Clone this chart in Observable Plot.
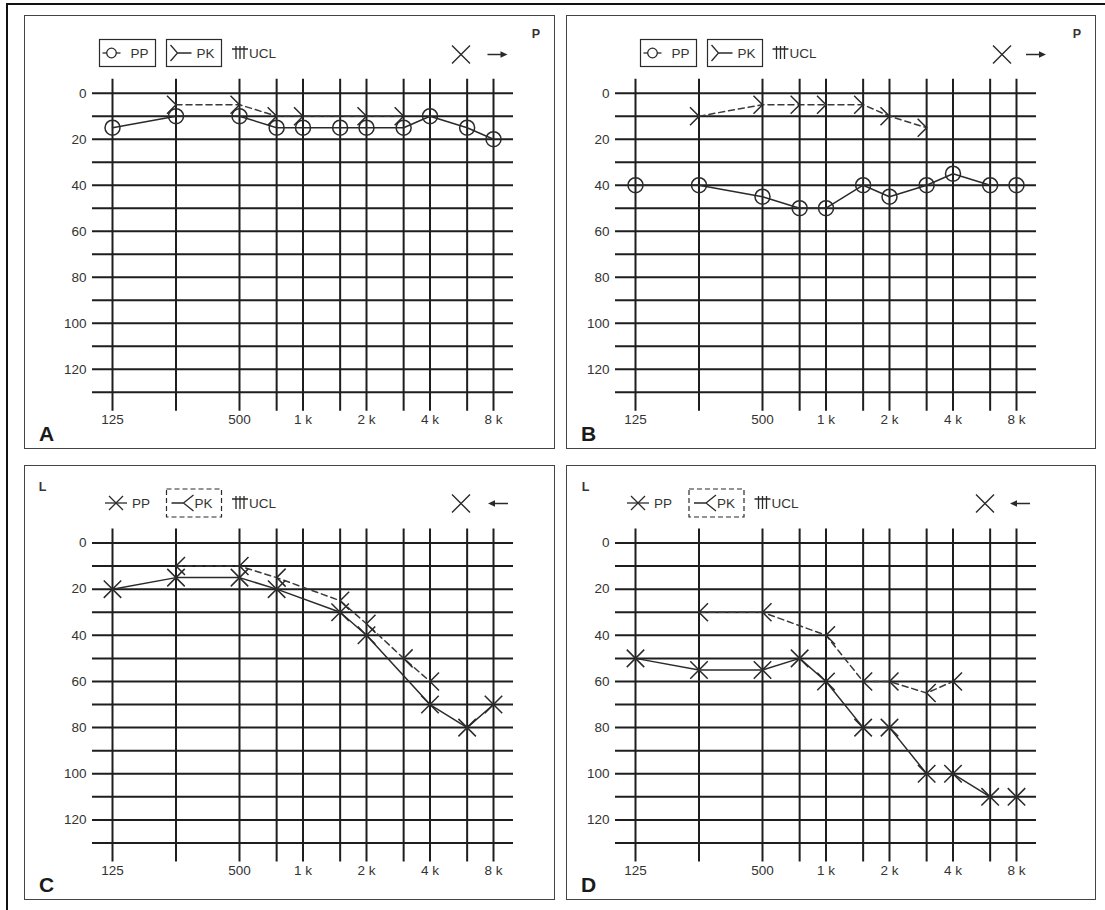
<!DOCTYPE html>
<html><head><meta charset="utf-8">
<script src="https://cdn.jsdelivr.net/npm/d3@7"></script>
<script src="https://cdn.jsdelivr.net/npm/@observablehq/plot@0.6"></script>
<style>
body{margin:0;background:#fff;}
#root{position:relative;width:1105px;height:910px;overflow:hidden;font-family:"Liberation Sans",Arial,Helvetica,sans-serif;}
.frame-top{position:absolute;left:6px;top:3px;width:1099px;height:2px;background:#111;}
.frame-left{position:absolute;left:6px;top:3px;width:2px;height:907px;background:#111;}
.box{position:absolute;border:1.5px solid #444;box-sizing:border-box;}
.layer{position:absolute;overflow:visible;}
</style></head><body><div id="root"><div class="frame-top"></div><div class="frame-left"></div></div>
<script>
// ---- axes / ticks ----
const freqs = [125, 250, 500, 750, 1000, 1500, 2000, 3000, 4000, 6000, 8000];
const dbGrid = [0, 10, 20, 30, 40, 50, 60, 70, 80, 90, 100, 110, 120, 130];
const dbLabels = [0, 20, 40, 60, 80, 100, 120];
const freqLabelValues = [125, 500, 1000, 2000, 4000, 8000];
const freqLabelTexts = ["125", "500", "1 k", "2 k", "4 k", "8 k"];

// ---- Panel A (right ear) ----
const aPPfreq = [125, 250, 500, 750, 1000, 1500, 2000, 3000, 4000, 6000, 8000];
const aPPdb   = [15, 10, 10, 15, 15, 15, 15, 15, 10, 15, 20];
const aPKfreq = [250, 500, 750, 1000, 2000, 3000];
const aPKdb   = [5, 5, 10, 10, 10, 10];

// ---- Panel B (right ear) ----
const bPPfreq = [125, 250, 500, 750, 1000, 1500, 2000, 3000, 4000, 6000, 8000];
const bPPdb   = [40, 40, 45, 50, 50, 40, 45, 40, 35, 40, 40];
const bPKfreq = [250, 500, 750, 1000, 1500, 2000, 3000];
const bPKdb   = [10, 5, 5, 5, 5, 10, 15];

// ---- Panel C (left ear) ----
const cPPfreq = [125, 250, 500, 750, 1500, 2000, 4000, 6000, 8000];
const cPPdb   = [20, 15, 15, 20, 30, 40, 70, 80, 70];
const cPKfreq = [250, 500, 750, 1500, 2000, 3000, 4000];
const cPKdb   = [10, 10, 15, 25, 35, 50, 60];

// ---- Panel D (left ear) ----
const dPPfreq = [125, 250, 500, 750, 1000, 1500, 2000, 3000, 4000, 6000, 8000];
const dPPdb   = [50, 55, 55, 50, 60, 80, 80, 100, 100, 110, 110];
const dPKfreq = [250, 500, 1000, 1500, 2000, 3000, 4000];
const dPKdb   = [30, 30, 40, 60, 60, 65, 60];

const INK = "#2a2a2a";
const FONT = '"Liberation Sans", Arial, Helvetica, sans-serif';

const chevRight = {draw(ctx, size){ const r = Math.sqrt(size/Math.PI); ctx.moveTo(-r,-r); ctx.lineTo(0,0); ctx.lineTo(-r,r); }};
const chevLeft  = {draw(ctx, size){ const r = Math.sqrt(size/Math.PI); ctx.moveTo(r,-r); ctx.lineTo(0,0); ctx.lineTo(r,r); }};

const root = document.getElementById("root");

function zip(f, v){ return f.map((x,i)=>({f:x, db:v[i]})); }

function panel(cfg){
  const {left, top, width, height, gx0, gx1, gy0, gy1, pp, pk, ear, letter, lg} = cfg;
  const box = document.createElement("div");
  box.className = "box";
  Object.assign(box.style, {left:left+"px", top:top+"px", width:width+"px", height:height+"px"});
  root.appendChild(box);

  const right = ear === "P";
  const plot = Plot.plot({
    width, height,
    marginLeft: gx0, marginRight: width - gx1, marginTop: gy0, marginBottom: height - gy1,
    style: {fontFamily: FONT, fontSize: "13.5px", background: "transparent", color: INK, overflow: "visible"},
    x: {type: "log", domain: [125, 8000], axis: null},
    y: {domain: [0, 130], reverse: true, axis: null},
    marks: [
      Plot.ruleY(dbGrid, {stroke: "#1e1e1e", strokeWidth: 2, insetLeft: -20, insetRight: -20}),
      Plot.ruleX(freqs, {stroke: "#1e1e1e", strokeWidth: 2, insetTop: -14, insetBottom: -19}),
      Plot.text(dbLabels, {y: d => d, frameAnchor: "left", textAnchor: "end", dx: -26, fill: "#333"}),
      Plot.text(freqLabelValues, {x: d => d, text: (d, i) => freqLabelTexts[i], frameAnchor: "bottom", dy: 32, fill: "#333"}),
      Plot.line(pk, {x: "f", y: "db", stroke: "#3a3a3a", strokeWidth: 1.5, strokeDasharray: "6,4"}),
      Plot.line(pp, {x: "f", y: "db", stroke: INK, strokeWidth: 1.5}),
      Plot.dot(pp, {x: "f", y: "db", symbol: right ? "circle" : "times", r: right ? 7.5 : 8, stroke: INK, fill: "none", strokeWidth: 1.5}),
      Plot.dot(pk, {x: "f", y: "db", symbol: right ? chevRight : chevLeft, r: 9, stroke: INK, fill: "none", strokeWidth: 1.5})
    ]
  });
  plot.classList.add("layer");
  Object.assign(plot.style, {left:left+"px", top:top+"px"});
  root.appendChild(plot);

  // legend / annotation layer
  const svg = d3.create("svg").attr("class","layer").attr("width",width).attr("height",height)
     .style("left",left+"px").style("top",top+"px")
     .attr("font-family", FONT).attr("fill", "#333");
  const g = svg.append("g").attr("stroke", INK).attr("stroke-width", 1.3).attr("fill","none");
  const cy = lg.cy;
  const FS = 13.5;
  // ear label
  svg.append("text").attr("x", lg.earX).attr("y", lg.earY).attr("text-anchor","middle")
     .attr("font-size", 12.5).attr("font-weight", "bold").text(ear);
  // PP
  if (right) {
    g.append("rect").attr("x", lg.pp).attr("y", cy-13.5).attr("width", 56).attr("height", 27).attr("stroke-width",1.2);
    g.append("line").attr("x1", lg.pp+3).attr("x2", lg.pp+21).attr("y1", cy).attr("y2", cy);
    g.append("circle").attr("cx", lg.pp+12).attr("cy", cy).attr("r", 4.8).attr("fill","#fff");
    svg.append("text").attr("x", lg.pp+31).attr("y", cy+5).attr("font-size", FS).text("PP");
  } else {
    g.append("line").attr("x1", lg.pp).attr("x2", lg.pp+22).attr("y1", cy).attr("y2", cy);
    g.append("path").attr("d", `M${lg.pp+4},${cy-7}L${lg.pp+18},${cy+7}M${lg.pp+4},${cy+7}L${lg.pp+18},${cy-7}`);
    svg.append("text").attr("x", lg.pp+27).attr("y", cy+5).attr("font-size", FS).text("PP");
  }
  // PK
  const k = lg.pk;
  if (right) {
    g.append("rect").attr("x", k).attr("y", cy-13.5).attr("width", 55).attr("height", 27).attr("stroke-width",1.2);
    g.append("path").attr("d", `M${k+4},${cy-8}L${k+11},${cy}L${k+4},${cy+8}M${k+11},${cy}L${k+25},${cy}`);
    svg.append("text").attr("x", k+30).attr("y", cy+5).attr("font-size", FS).text("PK");
  } else {
    g.append("rect").attr("x", k).attr("y", cy-14).attr("width", 55).attr("height", 28).attr("stroke-width",1.2).attr("stroke-dasharray","5,3");
    g.append("path").attr("d", `M${k+5},${cy}L${k+17},${cy}M${k+27},${cy-8}L${k+17},${cy}L${k+27},${cy+8}`);
    svg.append("text").attr("x", k+28).attr("y", cy+5).attr("font-size", FS).text("PK");
  }
  // UCL
  const u = lg.ucl;
  g.append("path").attr("d", `M${u},${cy-4}L${u+16},${cy-4}M${u+4},${cy-7}L${u+4},${cy+6}M${u+8},${cy-7}L${u+8},${cy+6}M${u+12},${cy-7}L${u+12},${cy+6}`);
  svg.append("text").attr("x", u+17).attr("y", cy+5).attr("font-size", FS).text("UCL");
  // X mark
  const xm = lg.xm, xy = lg.xy;
  g.append("path").attr("stroke-width",1.4).attr("d", `M${xm-9},${xy-9}L${xm+9},${xy+9}M${xm-9},${xy+9}L${xm+9},${xy-9}`);
  // arrow
  const a0 = lg.a0, a1 = lg.a0 + 20;
  if (right) {
    g.append("line").attr("x1", a0).attr("x2", a1-5).attr("y1", xy).attr("y2", xy).attr("stroke-width",1.5);
    svg.append("path").attr("fill", INK).attr("d", `M${a1},${xy}L${a1-7},${xy-3.2}L${a1-7},${xy+3.2}Z`);
  } else {
    g.append("line").attr("x1", a0+5).attr("x2", a1).attr("y1", xy).attr("y2", xy).attr("stroke-width",1.5);
    svg.append("path").attr("fill", INK).attr("d", `M${a0},${xy}L${a0+7},${xy-3.2}L${a0+7},${xy+3.2}Z`);
  }
  // panel letter
  svg.append("text").attr("x", 15).attr("y", height-8).attr("font-size", 21).attr("font-weight","bold").attr("fill","#1a1a1a").text(letter);
  root.appendChild(svg.node());
}

panel({left:24, top:15, width:531, height:434, gx0:88, gx1:469, gy0:77.7, gy1:376.7,
  pp: zip(aPPfreq, aPPdb), pk: zip(aPKfreq, aPKdb), ear:"P", letter:"A",
  lg:{cy:38, pp:75.5, pk:142.5, ucl:208, xm:437, xy:39.5, a0:463.5, earX:512, earY:23}});
panel({left:566, top:15, width:530, height:434, gx0:69, gx1:450, gy0:77.7, gy1:376.7,
  pp: zip(bPPfreq, bPPdb), pk: zip(bPKfreq, bPKdb), ear:"P", letter:"B",
  lg:{cy:38, pp:74.5, pk:141.5, ucl:206.5, xm:436, xy:39.5, a0:460, earX:511, earY:23}});
panel({left:24, top:465, width:531, height:435, gx0:88, gx1:469, gy0:77.5, gy1:377.5,
  pp: zip(cPPfreq, cPPdb), pk: zip(cPKfreq, cPKdb), ear:"L", letter:"C",
  lg:{cy:38, pp:81, pk:142.5, ucl:208, xm:437, xy:38.5, a0:464, earX:18.5, earY:26}});
panel({left:566, top:465, width:530, height:435, gx0:69, gx1:450, gy0:77.5, gy1:377.5,
  pp: zip(dPPfreq, dPPdb), pk: zip(dPKfreq, dPKdb), ear:"L", letter:"D",
  lg:{cy:38, pp:61, pk:123, ucl:188.5, xm:419, xy:38.5, a0:444, earX:19.5, earY:26}});
</script></body></html>
